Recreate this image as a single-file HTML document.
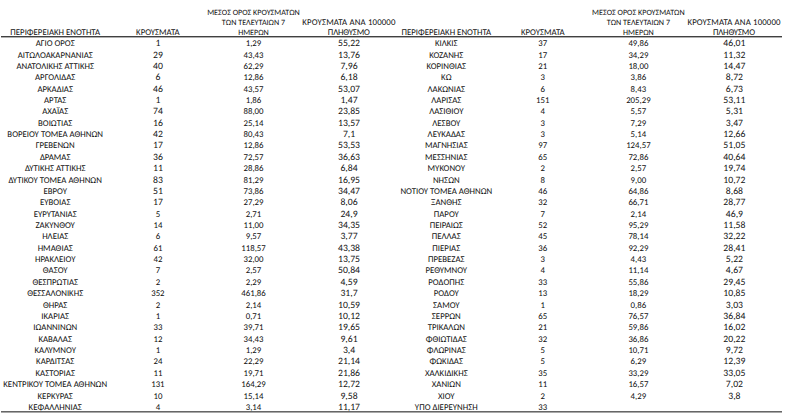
<!DOCTYPE html>
<html><head><meta charset="utf-8"><style>
html,body{margin:0;padding:0;background:#fff;}
body{width:787px;height:417px;position:relative;overflow:hidden;
font-family:"Carlito","Liberation Sans","DejaVu Sans",sans-serif;font-size-adjust:ex-height 0.4775390625;color:#111;}
.t{position:absolute;text-rendering:geometricPrecision;text-align:center;line-height:20px;white-space:nowrap;}
.ln{position:absolute;left:1px;width:781px;}
</style></head><body>
<div class="ln" style="top:36px;height:1px;background:#404040"></div>
<div class="ln" style="top:37px;height:1px;background:#b0b0b0"></div>
<div class="ln" style="top:411px;height:1px;background:#666666"></div>
<div class="ln" style="top:412px;height:1px;background:#a8a8a8"></div>
<div class="t" style="left:-19.80px;top:23.00px;width:150px;font-size:8.8px">ΠΕΡΙΦΕΡΕΙΑΚΗ ΕΝΟΤΗΤΑ</div>
<div class="t" style="left:112.90px;top:23.00px;width:90px;font-size:8.8px">ΚΡΟΥΣΜΑΤΑ</div>
<div class="t" style="left:193.50px;top:3.00px;width:120px;font-size:8.1px">ΜΕΣΟΣ ΟΡΟΣ ΚΡΟΥΣΜΑΤΩΝ</div>
<div class="t" style="left:193.50px;top:13.00px;width:120px;font-size:8.1px">ΤΩΝ ΤΕΛΕΥΤΑΙΩΝ 7</div>
<div class="t" style="left:193.50px;top:23.00px;width:120px;font-size:8.1px">ΗΜΕΡΩΝ</div>
<div class="t" style="left:288.97px;top:13.00px;width:120px;font-size:8.8px;letter-spacing:0.15px">ΚΡΟΥΣΜΑΤΑ ΑΝΑ 100000</div>
<div class="t" style="left:288.81px;top:23.00px;width:120px;font-size:8.8px;letter-spacing:-0.17px">ΠΛΗΘΥΣΜΟ</div>
<div class="t" style="left:-19.80px;top:34.00px;width:150px;font-size:8.8px">ΑΓΙΟ ΟΡΟΣ</div>
<div class="t" style="left:127.90px;top:33.00px;width:60px;font-size:9.7px">1</div>
<div class="t" style="left:213.50px;top:34.00px;width:80px;font-size:8.8px">1,29</div>
<div class="t" style="left:309.00px;top:33.00px;width:80px;font-size:9.7px">55,22</div>
<div class="t" style="left:-19.80px;top:46.00px;width:150px;font-size:8.8px">ΑΙΤΩΛΟΑΚΑΡΝΑΝΙΑΣ</div>
<div class="t" style="left:127.90px;top:45.00px;width:60px;font-size:9.7px">29</div>
<div class="t" style="left:213.50px;top:46.00px;width:80px;font-size:8.8px">43,43</div>
<div class="t" style="left:309.00px;top:45.00px;width:80px;font-size:9.7px">13,76</div>
<div class="t" style="left:-19.80px;top:57.00px;width:150px;font-size:8.8px">ΑΝΑΤΟΛΙΚΗΣ ΑΤΤΙΚΗΣ</div>
<div class="t" style="left:127.90px;top:56.00px;width:60px;font-size:9.7px">40</div>
<div class="t" style="left:213.50px;top:57.00px;width:80px;font-size:8.8px">62,29</div>
<div class="t" style="left:309.00px;top:56.00px;width:80px;font-size:9.7px">7,96</div>
<div class="t" style="left:-19.80px;top:68.00px;width:150px;font-size:8.8px">ΑΡΓΟΛΙΔΑΣ</div>
<div class="t" style="left:127.90px;top:67.00px;width:60px;font-size:9.7px">6</div>
<div class="t" style="left:213.50px;top:68.00px;width:80px;font-size:8.8px">12,86</div>
<div class="t" style="left:309.00px;top:67.00px;width:80px;font-size:9.7px">6,18</div>
<div class="t" style="left:-19.80px;top:80.00px;width:150px;font-size:8.8px">ΑΡΚΑΔΙΑΣ</div>
<div class="t" style="left:127.90px;top:79.00px;width:60px;font-size:9.7px">46</div>
<div class="t" style="left:213.50px;top:80.00px;width:80px;font-size:8.8px">43,57</div>
<div class="t" style="left:309.00px;top:79.00px;width:80px;font-size:9.7px">53,07</div>
<div class="t" style="left:-19.80px;top:91.00px;width:150px;font-size:8.8px">ΑΡΤΑΣ</div>
<div class="t" style="left:127.90px;top:90.00px;width:60px;font-size:9.7px">1</div>
<div class="t" style="left:213.50px;top:91.00px;width:80px;font-size:8.8px">1,86</div>
<div class="t" style="left:309.00px;top:90.00px;width:80px;font-size:9.7px">1,47</div>
<div class="t" style="left:-19.80px;top:102.00px;width:150px;font-size:8.8px">ΑΧΑΪΑΣ</div>
<div class="t" style="left:127.90px;top:101.00px;width:60px;font-size:9.7px">74</div>
<div class="t" style="left:213.50px;top:102.00px;width:80px;font-size:8.8px">88,00</div>
<div class="t" style="left:309.00px;top:101.00px;width:80px;font-size:9.7px">23,85</div>
<div class="t" style="left:-19.80px;top:114.00px;width:150px;font-size:8.8px">ΒΟΙΩΤΙΑΣ</div>
<div class="t" style="left:127.90px;top:113.00px;width:60px;font-size:9.7px">16</div>
<div class="t" style="left:213.50px;top:114.00px;width:80px;font-size:8.8px">25,14</div>
<div class="t" style="left:309.00px;top:113.00px;width:80px;font-size:9.7px">13,57</div>
<div class="t" style="left:-19.80px;top:125.00px;width:150px;font-size:8.8px">ΒΟΡΕΙΟΥ ΤΟΜΕΑ ΑΘΗΝΩΝ</div>
<div class="t" style="left:127.90px;top:124.00px;width:60px;font-size:9.7px">42</div>
<div class="t" style="left:213.50px;top:125.00px;width:80px;font-size:8.8px">80,43</div>
<div class="t" style="left:309.00px;top:124.00px;width:80px;font-size:9.7px">7,1</div>
<div class="t" style="left:-19.80px;top:136.00px;width:150px;font-size:8.8px">ΓΡΕΒΕΝΩΝ</div>
<div class="t" style="left:127.90px;top:135.00px;width:60px;font-size:9.7px">17</div>
<div class="t" style="left:213.50px;top:136.00px;width:80px;font-size:8.8px">12,86</div>
<div class="t" style="left:309.00px;top:135.00px;width:80px;font-size:9.7px">53,53</div>
<div class="t" style="left:-19.80px;top:148.00px;width:150px;font-size:8.8px">ΔΡΑΜΑΣ</div>
<div class="t" style="left:127.90px;top:147.00px;width:60px;font-size:9.7px">36</div>
<div class="t" style="left:213.50px;top:148.00px;width:80px;font-size:8.8px">72,57</div>
<div class="t" style="left:309.00px;top:147.00px;width:80px;font-size:9.7px">36,63</div>
<div class="t" style="left:-19.80px;top:159.00px;width:150px;font-size:8.8px">ΔΥΤΙΚΗΣ ΑΤΤΙΚΗΣ</div>
<div class="t" style="left:127.90px;top:158.00px;width:60px;font-size:9.7px">11</div>
<div class="t" style="left:213.50px;top:159.00px;width:80px;font-size:8.8px">28,86</div>
<div class="t" style="left:309.00px;top:158.00px;width:80px;font-size:9.7px">6,84</div>
<div class="t" style="left:-19.80px;top:171.00px;width:150px;font-size:8.8px">ΔΥΤΙΚΟΥ ΤΟΜΕΑ ΑΘΗΝΩΝ</div>
<div class="t" style="left:127.90px;top:170.00px;width:60px;font-size:9.7px">83</div>
<div class="t" style="left:213.50px;top:171.00px;width:80px;font-size:8.8px">81,29</div>
<div class="t" style="left:309.00px;top:170.00px;width:80px;font-size:9.7px">16,95</div>
<div class="t" style="left:-19.80px;top:182.00px;width:150px;font-size:8.8px">ΕΒΡΟΥ</div>
<div class="t" style="left:127.90px;top:181.00px;width:60px;font-size:9.7px">51</div>
<div class="t" style="left:213.50px;top:182.00px;width:80px;font-size:8.8px">73,86</div>
<div class="t" style="left:309.00px;top:181.00px;width:80px;font-size:9.7px">34,47</div>
<div class="t" style="left:-19.80px;top:193.00px;width:150px;font-size:8.8px">ΕΥΒΟΙΑΣ</div>
<div class="t" style="left:127.90px;top:192.00px;width:60px;font-size:9.7px">17</div>
<div class="t" style="left:213.50px;top:193.00px;width:80px;font-size:8.8px">27,29</div>
<div class="t" style="left:309.00px;top:192.00px;width:80px;font-size:9.7px">8,06</div>
<div class="t" style="left:-19.80px;top:205.00px;width:150px;font-size:8.8px">ΕΥΡΥΤΑΝΙΑΣ</div>
<div class="t" style="left:127.90px;top:205.00px;width:60px;font-size:8.8px">5</div>
<div class="t" style="left:213.50px;top:205.00px;width:80px;font-size:8.8px">2,71</div>
<div class="t" style="left:309.00px;top:204.00px;width:80px;font-size:9.7px">24,9</div>
<div class="t" style="left:-19.80px;top:216.00px;width:150px;font-size:8.8px">ΖΑΚΥΝΘΟΥ</div>
<div class="t" style="left:127.90px;top:216.00px;width:60px;font-size:8.8px">14</div>
<div class="t" style="left:213.50px;top:216.00px;width:80px;font-size:8.8px">11,00</div>
<div class="t" style="left:309.00px;top:215.00px;width:80px;font-size:9.7px">34,35</div>
<div class="t" style="left:-19.80px;top:227.00px;width:150px;font-size:8.8px">ΗΛΕΙΑΣ</div>
<div class="t" style="left:127.90px;top:227.00px;width:60px;font-size:8.8px">6</div>
<div class="t" style="left:213.50px;top:227.00px;width:80px;font-size:8.8px">9,57</div>
<div class="t" style="left:309.00px;top:226.00px;width:80px;font-size:9.7px">3,77</div>
<div class="t" style="left:-19.80px;top:239.00px;width:150px;font-size:8.8px">ΗΜΑΘΙΑΣ</div>
<div class="t" style="left:127.90px;top:239.00px;width:60px;font-size:8.8px">61</div>
<div class="t" style="left:213.50px;top:239.00px;width:80px;font-size:8.8px">118,57</div>
<div class="t" style="left:309.00px;top:238.00px;width:80px;font-size:9.7px">43,38</div>
<div class="t" style="left:-19.80px;top:250.00px;width:150px;font-size:8.8px">ΗΡΑΚΛΕΙΟΥ</div>
<div class="t" style="left:127.90px;top:250.00px;width:60px;font-size:8.8px">42</div>
<div class="t" style="left:213.50px;top:250.00px;width:80px;font-size:8.8px">32,00</div>
<div class="t" style="left:309.00px;top:249.00px;width:80px;font-size:9.7px">13,75</div>
<div class="t" style="left:-19.80px;top:261.00px;width:150px;font-size:8.8px">ΘΑΣΟΥ</div>
<div class="t" style="left:127.90px;top:261.00px;width:60px;font-size:8.8px">7</div>
<div class="t" style="left:213.50px;top:261.00px;width:80px;font-size:8.8px">2,57</div>
<div class="t" style="left:309.00px;top:260.00px;width:80px;font-size:9.7px">50,84</div>
<div class="t" style="left:-19.80px;top:273.00px;width:150px;font-size:8.8px">ΘΕΣΠΡΩΤΙΑΣ</div>
<div class="t" style="left:127.90px;top:273.00px;width:60px;font-size:8.8px">2</div>
<div class="t" style="left:213.50px;top:273.00px;width:80px;font-size:8.8px">2,29</div>
<div class="t" style="left:309.00px;top:272.00px;width:80px;font-size:9.7px">4,59</div>
<div class="t" style="left:-19.80px;top:284.00px;width:150px;font-size:8.8px">ΘΕΣΣΑΛΟΝΙΚΗΣ</div>
<div class="t" style="left:127.90px;top:284.00px;width:60px;font-size:8.8px">352</div>
<div class="t" style="left:213.50px;top:284.00px;width:80px;font-size:8.8px">461,86</div>
<div class="t" style="left:309.00px;top:283.00px;width:80px;font-size:9.7px">31,7</div>
<div class="t" style="left:-19.80px;top:296.00px;width:150px;font-size:8.8px">ΘΗΡΑΣ</div>
<div class="t" style="left:127.90px;top:296.00px;width:60px;font-size:8.8px">2</div>
<div class="t" style="left:213.50px;top:296.00px;width:80px;font-size:8.8px">2,14</div>
<div class="t" style="left:309.00px;top:295.00px;width:80px;font-size:9.7px">10,59</div>
<div class="t" style="left:-19.80px;top:307.00px;width:150px;font-size:8.8px">ΙΚΑΡΙΑΣ</div>
<div class="t" style="left:127.90px;top:307.00px;width:60px;font-size:8.8px">1</div>
<div class="t" style="left:213.50px;top:307.00px;width:80px;font-size:8.8px">0,71</div>
<div class="t" style="left:309.00px;top:306.00px;width:80px;font-size:9.7px">10,12</div>
<div class="t" style="left:-19.80px;top:318.00px;width:150px;font-size:8.8px">ΙΩΑΝΝΙΝΩΝ</div>
<div class="t" style="left:127.90px;top:318.00px;width:60px;font-size:8.8px">33</div>
<div class="t" style="left:213.50px;top:318.00px;width:80px;font-size:8.8px">39,71</div>
<div class="t" style="left:309.00px;top:317.00px;width:80px;font-size:9.7px">19,65</div>
<div class="t" style="left:-19.80px;top:330.00px;width:150px;font-size:8.8px">ΚΑΒΑΛΑΣ</div>
<div class="t" style="left:127.90px;top:330.00px;width:60px;font-size:8.8px">12</div>
<div class="t" style="left:213.50px;top:330.00px;width:80px;font-size:8.8px">34,43</div>
<div class="t" style="left:309.00px;top:329.00px;width:80px;font-size:9.7px">9,61</div>
<div class="t" style="left:-19.80px;top:341.00px;width:150px;font-size:8.8px">ΚΑΛΥΜΝΟΥ</div>
<div class="t" style="left:127.90px;top:341.00px;width:60px;font-size:8.8px">1</div>
<div class="t" style="left:213.50px;top:341.00px;width:80px;font-size:8.8px">1,29</div>
<div class="t" style="left:309.00px;top:340.00px;width:80px;font-size:9.7px">3,4</div>
<div class="t" style="left:-19.80px;top:352.00px;width:150px;font-size:8.8px">ΚΑΡΔΙΤΣΑΣ</div>
<div class="t" style="left:127.90px;top:352.00px;width:60px;font-size:8.8px">24</div>
<div class="t" style="left:213.50px;top:352.00px;width:80px;font-size:8.8px">22,29</div>
<div class="t" style="left:309.00px;top:351.00px;width:80px;font-size:9.7px">21,14</div>
<div class="t" style="left:-19.80px;top:364.00px;width:150px;font-size:8.8px">ΚΑΣΤΟΡΙΑΣ</div>
<div class="t" style="left:127.90px;top:364.00px;width:60px;font-size:8.8px">11</div>
<div class="t" style="left:213.50px;top:364.00px;width:80px;font-size:8.8px">19,71</div>
<div class="t" style="left:309.00px;top:363.00px;width:80px;font-size:9.7px">21,86</div>
<div class="t" style="left:-19.80px;top:375.00px;width:150px;font-size:8.8px">ΚΕΝΤΡΙΚΟΥ ΤΟΜΕΑ ΑΘΗΝΩΝ</div>
<div class="t" style="left:127.90px;top:375.00px;width:60px;font-size:8.8px">131</div>
<div class="t" style="left:213.50px;top:375.00px;width:80px;font-size:8.8px">164,29</div>
<div class="t" style="left:309.00px;top:374.00px;width:80px;font-size:9.7px">12,72</div>
<div class="t" style="left:-19.80px;top:387.00px;width:150px;font-size:8.8px">ΚΕΡΚΥΡΑΣ</div>
<div class="t" style="left:127.90px;top:387.00px;width:60px;font-size:8.8px">10</div>
<div class="t" style="left:213.50px;top:387.00px;width:80px;font-size:8.8px">15,14</div>
<div class="t" style="left:309.00px;top:386.00px;width:80px;font-size:9.7px">9,58</div>
<div class="t" style="left:-19.80px;top:398.00px;width:150px;font-size:8.8px">ΚΕΦΑΛΛΗΝΙΑΣ</div>
<div class="t" style="left:127.90px;top:398.00px;width:60px;font-size:8.8px">4</div>
<div class="t" style="left:213.50px;top:398.00px;width:80px;font-size:8.8px">3,14</div>
<div class="t" style="left:309.00px;top:397.00px;width:80px;font-size:9.7px">11,17</div>
<div class="t" style="left:371.30px;top:23.00px;width:150px;font-size:8.8px">ΠΕΡΙΦΕΡΕΙΑΚΗ ΕΝΟΤΗΤΑ</div>
<div class="t" style="left:497.80px;top:23.00px;width:90px;font-size:8.8px">ΚΡΟΥΣΜΑΤΑ</div>
<div class="t" style="left:578.40px;top:3.00px;width:120px;font-size:8.1px">ΜΕΣΟΣ ΟΡΟΣ ΚΡΟΥΣΜΑΤΩΝ</div>
<div class="t" style="left:578.40px;top:13.00px;width:120px;font-size:8.1px">ΤΩΝ ΤΕΛΕΥΤΑΙΩΝ 7</div>
<div class="t" style="left:578.40px;top:23.00px;width:120px;font-size:8.1px">ΗΜΕΡΩΝ</div>
<div class="t" style="left:674.08px;top:13.00px;width:120px;font-size:8.8px;letter-spacing:0.15px">ΚΡΟΥΣΜΑΤΑ ΑΝΑ 100000</div>
<div class="t" style="left:673.91px;top:23.00px;width:120px;font-size:8.8px;letter-spacing:-0.17px">ΠΛΗΘΥΣΜΟ</div>
<div class="t" style="left:371.30px;top:34.00px;width:150px;font-size:8.8px">ΚΙΛΚΙΣ</div>
<div class="t" style="left:512.80px;top:34.00px;width:60px;font-size:8.8px">37</div>
<div class="t" style="left:598.40px;top:34.00px;width:80px;font-size:8.8px">49,86</div>
<div class="t" style="left:694.40px;top:33.00px;width:80px;font-size:9.7px">46,01</div>
<div class="t" style="left:371.30px;top:46.00px;width:150px;font-size:8.8px">ΚΟΖΑΝΗΣ</div>
<div class="t" style="left:512.80px;top:46.00px;width:60px;font-size:8.8px">17</div>
<div class="t" style="left:598.40px;top:46.00px;width:80px;font-size:8.8px">34,29</div>
<div class="t" style="left:694.40px;top:45.00px;width:80px;font-size:9.7px">11,32</div>
<div class="t" style="left:371.30px;top:57.00px;width:150px;font-size:8.8px">ΚΟΡΙΝΘΙΑΣ</div>
<div class="t" style="left:512.80px;top:57.00px;width:60px;font-size:8.8px">21</div>
<div class="t" style="left:598.40px;top:57.00px;width:80px;font-size:8.8px">18,00</div>
<div class="t" style="left:694.40px;top:56.00px;width:80px;font-size:9.7px">14,47</div>
<div class="t" style="left:371.30px;top:68.00px;width:150px;font-size:8.8px">ΚΩ</div>
<div class="t" style="left:512.80px;top:68.00px;width:60px;font-size:8.8px">3</div>
<div class="t" style="left:598.40px;top:68.00px;width:80px;font-size:8.8px">3,86</div>
<div class="t" style="left:694.40px;top:67.00px;width:80px;font-size:9.7px">8,72</div>
<div class="t" style="left:371.30px;top:80.00px;width:150px;font-size:8.8px">ΛΑΚΩΝΙΑΣ</div>
<div class="t" style="left:512.80px;top:80.00px;width:60px;font-size:8.8px">6</div>
<div class="t" style="left:598.40px;top:80.00px;width:80px;font-size:8.8px">8,43</div>
<div class="t" style="left:694.40px;top:79.00px;width:80px;font-size:9.7px">6,73</div>
<div class="t" style="left:371.30px;top:91.00px;width:150px;font-size:8.8px">ΛΑΡΙΣΑΣ</div>
<div class="t" style="left:512.80px;top:91.00px;width:60px;font-size:8.8px">151</div>
<div class="t" style="left:598.40px;top:91.00px;width:80px;font-size:8.8px">205,29</div>
<div class="t" style="left:694.40px;top:90.00px;width:80px;font-size:9.7px">53,11</div>
<div class="t" style="left:371.30px;top:102.00px;width:150px;font-size:8.8px">ΛΑΣΙΘΙΟΥ</div>
<div class="t" style="left:512.80px;top:102.00px;width:60px;font-size:8.8px">4</div>
<div class="t" style="left:598.40px;top:102.00px;width:80px;font-size:8.8px">5,57</div>
<div class="t" style="left:694.40px;top:101.00px;width:80px;font-size:9.7px">5,31</div>
<div class="t" style="left:371.30px;top:114.00px;width:150px;font-size:8.8px">ΛΕΣΒΟΥ</div>
<div class="t" style="left:512.80px;top:114.00px;width:60px;font-size:8.8px">3</div>
<div class="t" style="left:598.40px;top:114.00px;width:80px;font-size:8.8px">7,29</div>
<div class="t" style="left:694.40px;top:113.00px;width:80px;font-size:9.7px">3,47</div>
<div class="t" style="left:371.30px;top:125.00px;width:150px;font-size:8.8px">ΛΕΥΚΑΔΑΣ</div>
<div class="t" style="left:512.80px;top:125.00px;width:60px;font-size:8.8px">3</div>
<div class="t" style="left:598.40px;top:125.00px;width:80px;font-size:8.8px">5,14</div>
<div class="t" style="left:694.40px;top:124.00px;width:80px;font-size:9.7px">12,66</div>
<div class="t" style="left:371.30px;top:136.00px;width:150px;font-size:8.8px">ΜΑΓΝΗΣΙΑΣ</div>
<div class="t" style="left:512.80px;top:136.00px;width:60px;font-size:8.8px">97</div>
<div class="t" style="left:598.40px;top:136.00px;width:80px;font-size:8.8px">124,57</div>
<div class="t" style="left:694.40px;top:135.00px;width:80px;font-size:9.7px">51,05</div>
<div class="t" style="left:371.30px;top:148.00px;width:150px;font-size:8.8px">ΜΕΣΣΗΝΙΑΣ</div>
<div class="t" style="left:512.80px;top:148.00px;width:60px;font-size:8.8px">65</div>
<div class="t" style="left:598.40px;top:148.00px;width:80px;font-size:8.8px">72,86</div>
<div class="t" style="left:694.40px;top:147.00px;width:80px;font-size:9.7px">40,64</div>
<div class="t" style="left:371.30px;top:159.00px;width:150px;font-size:8.8px">ΜΥΚΟΝΟΥ</div>
<div class="t" style="left:512.80px;top:159.00px;width:60px;font-size:8.8px">2</div>
<div class="t" style="left:598.40px;top:159.00px;width:80px;font-size:8.8px">2,57</div>
<div class="t" style="left:694.40px;top:158.00px;width:80px;font-size:9.7px">19,74</div>
<div class="t" style="left:371.30px;top:171.00px;width:150px;font-size:8.8px">ΝΗΣΩΝ</div>
<div class="t" style="left:512.80px;top:171.00px;width:60px;font-size:8.8px">8</div>
<div class="t" style="left:598.40px;top:171.00px;width:80px;font-size:8.8px">9,00</div>
<div class="t" style="left:694.40px;top:170.00px;width:80px;font-size:9.7px">10,72</div>
<div class="t" style="left:371.30px;top:182.00px;width:150px;font-size:8.8px">ΝΟΤΙΟΥ ΤΟΜΕΑ ΑΘΗΝΩΝ</div>
<div class="t" style="left:512.80px;top:182.00px;width:60px;font-size:8.8px">46</div>
<div class="t" style="left:598.40px;top:182.00px;width:80px;font-size:8.8px">64,86</div>
<div class="t" style="left:694.40px;top:181.00px;width:80px;font-size:9.7px">8,68</div>
<div class="t" style="left:371.30px;top:193.00px;width:150px;font-size:8.8px">ΞΑΝΘΗΣ</div>
<div class="t" style="left:512.80px;top:193.00px;width:60px;font-size:8.8px">32</div>
<div class="t" style="left:598.40px;top:193.00px;width:80px;font-size:8.8px">66,71</div>
<div class="t" style="left:694.40px;top:192.00px;width:80px;font-size:9.7px">28,77</div>
<div class="t" style="left:371.30px;top:205.00px;width:150px;font-size:8.8px">ΠΑΡΟΥ</div>
<div class="t" style="left:512.80px;top:205.00px;width:60px;font-size:8.8px">7</div>
<div class="t" style="left:598.40px;top:205.00px;width:80px;font-size:8.8px">2,14</div>
<div class="t" style="left:694.40px;top:204.00px;width:80px;font-size:9.7px">46,9</div>
<div class="t" style="left:371.30px;top:216.00px;width:150px;font-size:8.8px">ΠΕΙΡΑΙΩΣ</div>
<div class="t" style="left:512.80px;top:216.00px;width:60px;font-size:8.8px">52</div>
<div class="t" style="left:598.40px;top:216.00px;width:80px;font-size:8.8px">95,29</div>
<div class="t" style="left:694.40px;top:215.00px;width:80px;font-size:9.7px">11,58</div>
<div class="t" style="left:371.30px;top:227.00px;width:150px;font-size:8.8px">ΠΕΛΛΑΣ</div>
<div class="t" style="left:512.80px;top:227.00px;width:60px;font-size:8.8px">45</div>
<div class="t" style="left:598.40px;top:227.00px;width:80px;font-size:8.8px">78,14</div>
<div class="t" style="left:694.40px;top:226.00px;width:80px;font-size:9.7px">32,22</div>
<div class="t" style="left:371.30px;top:239.00px;width:150px;font-size:8.8px">ΠΙΕΡΙΑΣ</div>
<div class="t" style="left:512.80px;top:239.00px;width:60px;font-size:8.8px">36</div>
<div class="t" style="left:598.40px;top:239.00px;width:80px;font-size:8.8px">92,29</div>
<div class="t" style="left:694.40px;top:238.00px;width:80px;font-size:9.7px">28,41</div>
<div class="t" style="left:371.30px;top:250.00px;width:150px;font-size:8.8px">ΠΡΕΒΕΖΑΣ</div>
<div class="t" style="left:512.80px;top:250.00px;width:60px;font-size:8.8px">3</div>
<div class="t" style="left:598.40px;top:250.00px;width:80px;font-size:8.8px">4,43</div>
<div class="t" style="left:694.40px;top:249.00px;width:80px;font-size:9.7px">5,22</div>
<div class="t" style="left:371.30px;top:261.00px;width:150px;font-size:8.8px">ΡΕΘΥΜΝΟΥ</div>
<div class="t" style="left:512.80px;top:261.00px;width:60px;font-size:8.8px">4</div>
<div class="t" style="left:598.40px;top:261.00px;width:80px;font-size:8.8px">11,14</div>
<div class="t" style="left:694.40px;top:260.00px;width:80px;font-size:9.7px">4,67</div>
<div class="t" style="left:371.30px;top:273.00px;width:150px;font-size:8.8px">ΡΟΔΟΠΗΣ</div>
<div class="t" style="left:512.80px;top:273.00px;width:60px;font-size:8.8px">33</div>
<div class="t" style="left:598.40px;top:273.00px;width:80px;font-size:8.8px">55,86</div>
<div class="t" style="left:694.40px;top:272.00px;width:80px;font-size:9.7px">29,45</div>
<div class="t" style="left:371.30px;top:284.00px;width:150px;font-size:8.8px">ΡΟΔΟΥ</div>
<div class="t" style="left:512.80px;top:284.00px;width:60px;font-size:8.8px">13</div>
<div class="t" style="left:598.40px;top:284.00px;width:80px;font-size:8.8px">18,29</div>
<div class="t" style="left:694.40px;top:283.00px;width:80px;font-size:9.7px">10,85</div>
<div class="t" style="left:371.30px;top:296.00px;width:150px;font-size:8.8px">ΣΑΜΟΥ</div>
<div class="t" style="left:512.80px;top:296.00px;width:60px;font-size:8.8px">1</div>
<div class="t" style="left:598.40px;top:296.00px;width:80px;font-size:8.8px">0,86</div>
<div class="t" style="left:694.40px;top:295.00px;width:80px;font-size:9.7px">3,03</div>
<div class="t" style="left:371.30px;top:307.00px;width:150px;font-size:8.8px">ΣΕΡΡΩΝ</div>
<div class="t" style="left:512.80px;top:307.00px;width:60px;font-size:8.8px">65</div>
<div class="t" style="left:598.40px;top:307.00px;width:80px;font-size:8.8px">76,57</div>
<div class="t" style="left:694.40px;top:306.00px;width:80px;font-size:9.7px">36,84</div>
<div class="t" style="left:371.30px;top:318.00px;width:150px;font-size:8.8px">ΤΡΙΚΑΛΩΝ</div>
<div class="t" style="left:512.80px;top:318.00px;width:60px;font-size:8.8px">21</div>
<div class="t" style="left:598.40px;top:318.00px;width:80px;font-size:8.8px">59,86</div>
<div class="t" style="left:694.40px;top:317.00px;width:80px;font-size:9.7px">16,02</div>
<div class="t" style="left:371.30px;top:330.00px;width:150px;font-size:8.8px">ΦΘΙΩΤΙΔΑΣ</div>
<div class="t" style="left:512.80px;top:330.00px;width:60px;font-size:8.8px">32</div>
<div class="t" style="left:598.40px;top:330.00px;width:80px;font-size:8.8px">36,86</div>
<div class="t" style="left:694.40px;top:329.00px;width:80px;font-size:9.7px">20,22</div>
<div class="t" style="left:371.30px;top:341.00px;width:150px;font-size:8.8px">ΦΛΩΡΙΝΑΣ</div>
<div class="t" style="left:512.80px;top:341.00px;width:60px;font-size:8.8px">5</div>
<div class="t" style="left:598.40px;top:341.00px;width:80px;font-size:8.8px">10,71</div>
<div class="t" style="left:694.40px;top:340.00px;width:80px;font-size:9.7px">9,72</div>
<div class="t" style="left:371.30px;top:352.00px;width:150px;font-size:8.8px">ΦΩΚΙΔΑΣ</div>
<div class="t" style="left:512.80px;top:352.00px;width:60px;font-size:8.8px">5</div>
<div class="t" style="left:598.40px;top:352.00px;width:80px;font-size:8.8px">6,29</div>
<div class="t" style="left:694.40px;top:351.00px;width:80px;font-size:9.7px">12,39</div>
<div class="t" style="left:371.30px;top:364.00px;width:150px;font-size:8.8px">ΧΑΛΚΙΔΙΚΗΣ</div>
<div class="t" style="left:512.80px;top:364.00px;width:60px;font-size:8.8px">35</div>
<div class="t" style="left:598.40px;top:364.00px;width:80px;font-size:8.8px">33,29</div>
<div class="t" style="left:694.40px;top:363.00px;width:80px;font-size:9.7px">33,05</div>
<div class="t" style="left:371.30px;top:375.00px;width:150px;font-size:8.8px">ΧΑΝΙΩΝ</div>
<div class="t" style="left:512.80px;top:375.00px;width:60px;font-size:8.8px">11</div>
<div class="t" style="left:598.40px;top:375.00px;width:80px;font-size:8.8px">16,57</div>
<div class="t" style="left:694.40px;top:374.00px;width:80px;font-size:9.7px">7,02</div>
<div class="t" style="left:371.30px;top:387.00px;width:150px;font-size:8.8px">ΧΙΟΥ</div>
<div class="t" style="left:512.80px;top:387.00px;width:60px;font-size:8.8px">2</div>
<div class="t" style="left:598.40px;top:387.00px;width:80px;font-size:8.8px">4,29</div>
<div class="t" style="left:694.40px;top:386.00px;width:80px;font-size:9.7px">3,8</div>
<div class="t" style="left:371.30px;top:398.00px;width:150px;font-size:8.8px">ΥΠΟ ΔΙΕΡΕΥΝΗΣΗ</div>
<div class="t" style="left:512.80px;top:398.00px;width:60px;font-size:8.8px">33</div>
</body></html>
